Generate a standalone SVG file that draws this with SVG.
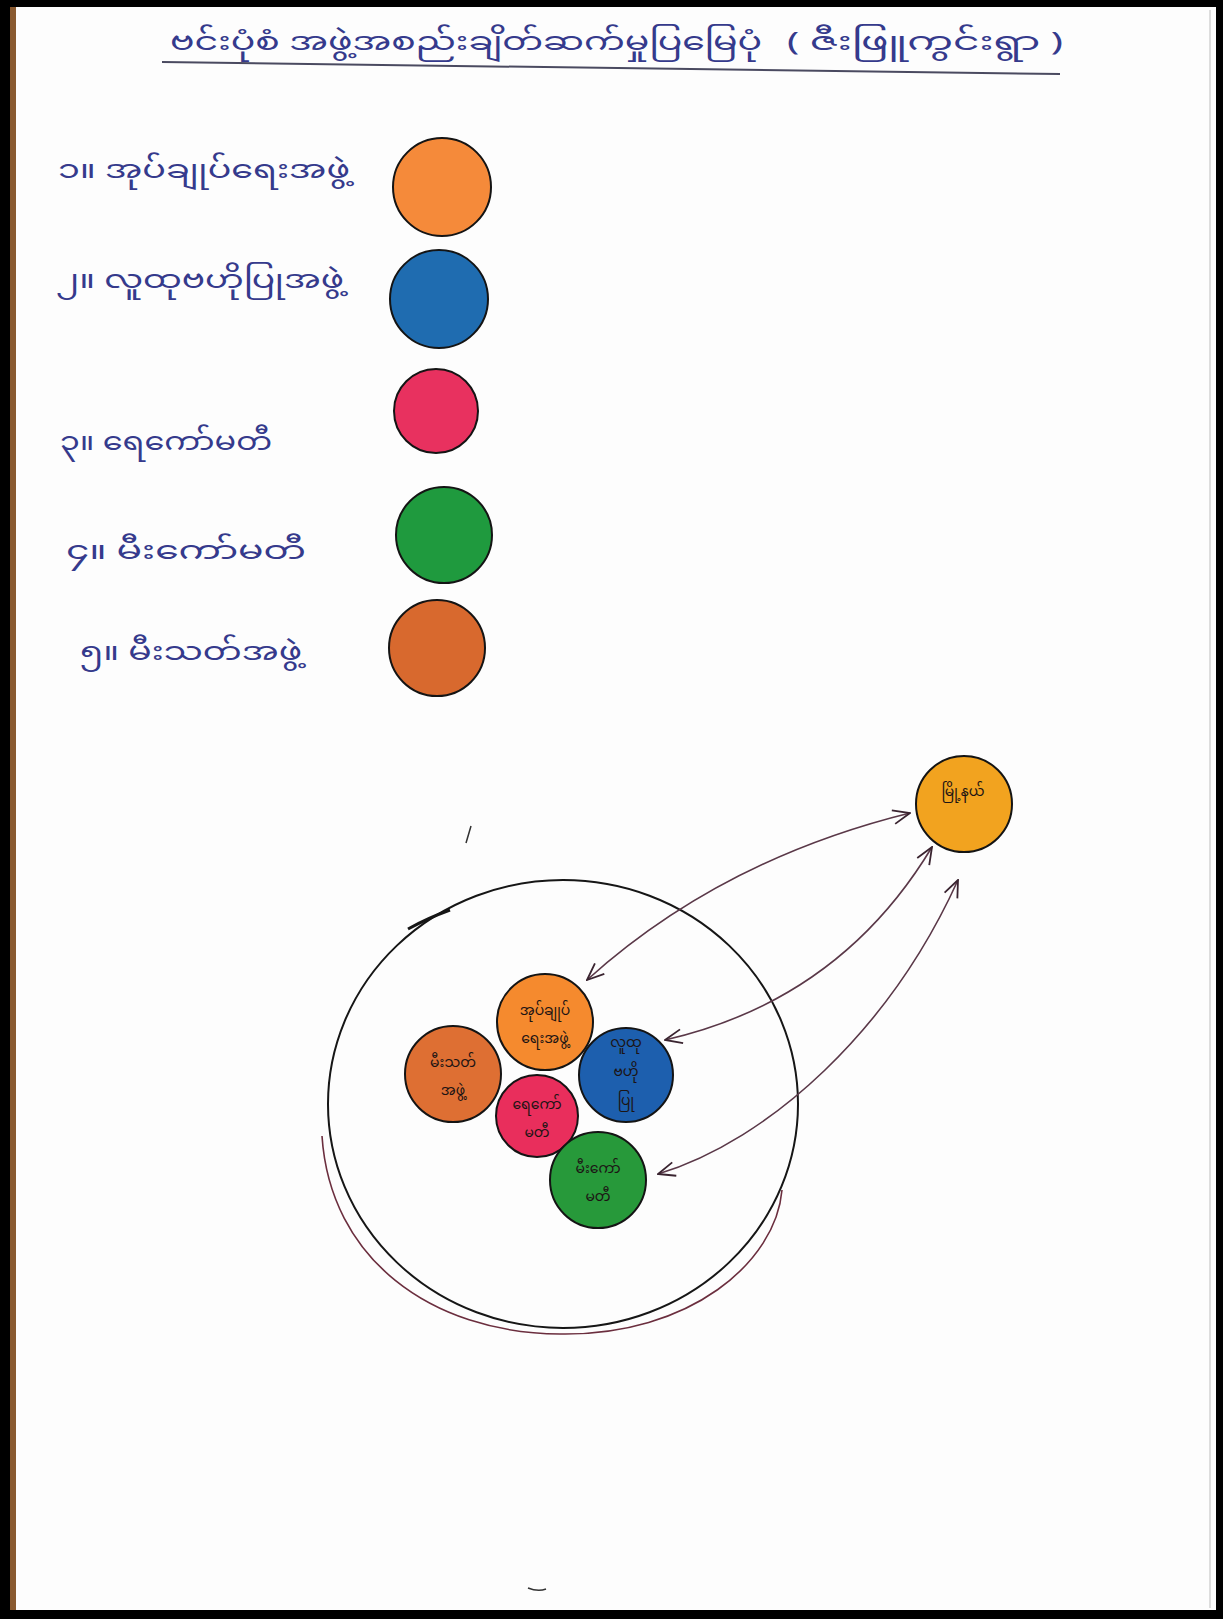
<svg xmlns="http://www.w3.org/2000/svg" width="1223" height="1619" viewBox="0 0 1223 1619">
<style>
.ink{font-family:"Noto Sans Myanmar","Padauk","Myanmar Text","Noto Sans","DejaVu Sans",sans-serif;fill:#353a8c}
.lbl{font-family:"Noto Sans Myanmar","Padauk","Myanmar Text","Noto Sans","DejaVu Sans",sans-serif;fill:#1c1414;font-size:14px;text-anchor:middle}
.dot{stroke:#141414;stroke-width:2}
.con{fill:none;stroke:#5a3848;stroke-width:1.6}
</style>
<defs>
<marker id="chev" viewBox="0 0 20 20" refX="19" refY="10" markerWidth="20" markerHeight="20" markerUnits="userSpaceOnUse" orient="auto-start-reverse">
<path d="M2,3 L19,10 L2,17" fill="none" stroke="#3a2430" stroke-width="1.8"/>
</marker>
</defs>
<rect x="0" y="0" width="1223" height="1619" fill="#000"/>
<rect x="10" y="7" width="1206" height="1603" fill="#fdfdfd"/>
<rect x="10" y="7" width="6" height="1603" fill="#8a5a30"/>
<line x1="1210" y1="10" x2="1210" y2="1608" stroke="#bdbdbd" stroke-width="1"/>

<g id="title">
<text class="ink" x="170" y="50" font-size="26" textLength="592" lengthAdjust="spacingAndGlyphs">ဗင်းပုံစံ အဖွဲ့အစည်းချိတ်ဆက်မှုပြမြေပုံ</text>
<text class="ink" x="787" y="50" font-size="26" textLength="276" lengthAdjust="spacingAndGlyphs">( ဇီးဖြူကွင်းရွာ )</text>
<path d="M162,62 Q650,68 1060,74" fill="none" stroke="#4a4a60" stroke-width="2"/>
</g>

<g id="legend-1">
<text class="ink" x="58" y="178" font-size="25" textLength="292" lengthAdjust="spacingAndGlyphs">၁။ အုပ်ချုပ်ရေးအဖွဲ့</text>
<circle class="dot" cx="442" cy="187" r="49" fill="#f58a3a"/>
</g>
<g id="legend-2">
<text class="ink" x="56" y="288" font-size="25" textLength="288" lengthAdjust="spacingAndGlyphs">၂။ လူထုဗဟိုပြုအဖွဲ့</text>
<circle class="dot" cx="439" cy="299" r="49" fill="#1f6cb0"/>
</g>
<g id="legend-3">
<text class="ink" x="60" y="450" font-size="25" textLength="212" lengthAdjust="spacingAndGlyphs">၃။ ရေကော်မတီ</text>
<circle class="dot" cx="436" cy="411" r="42" fill="#e8315f"/>
</g>
<g id="legend-4">
<text class="ink" x="66" y="559" font-size="25" textLength="240" lengthAdjust="spacingAndGlyphs">၄။ မီးကော်မတီ</text>
<circle class="dot" cx="444" cy="535" r="48" fill="#1f9a3e"/>
</g>
<g id="legend-5">
<text class="ink" x="80" y="660" font-size="25" textLength="222" lengthAdjust="spacingAndGlyphs">၅။ မီးသတ်အဖွဲ့</text>
<circle class="dot" cx="437" cy="648" r="48" fill="#d8692e"/>
</g>

<g id="village-boundary">
<ellipse cx="563" cy="1104" rx="235" ry="224" fill="none" stroke="#161616" stroke-width="2"/>
<path d="M322,1136 C330,1258 430,1333 560,1334 C690,1336 776,1262 782,1190" fill="none" stroke="#6b2e3e" stroke-width="1.6"/>
<path d="M408,929 Q428,918 450,910" fill="none" stroke="#161616" stroke-width="3"/>
</g>

<g id="node-admin">
<circle class="dot" cx="545" cy="1022" r="48" fill="#f58a2e"/>
<text class="lbl" x="545" y="1015">အုပ်ချုပ်</text>
<text class="lbl" x="545" y="1043">ရေးအဖွဲ့</text>
</g>
<g id="node-fire">
<circle class="dot" cx="453" cy="1074" r="48" fill="#de6f33"/>
<text class="lbl" x="453" y="1067">မီးသတ်</text>
<text class="lbl" x="453" y="1095">အဖွဲ့</text>
</g>
<g id="node-cbo">
<circle class="dot" cx="626" cy="1075" r="47" fill="#1d5fae"/>
<text class="lbl" x="626" y="1047" font-size="11" fill="#15163a">လူထု</text>
<text class="lbl" x="626" y="1076" font-size="11" fill="#15163a">ဗဟို</text>
<text class="lbl" x="626" y="1105" font-size="11" fill="#15163a">ပြု</text>
</g>
<g id="node-water">
<circle class="dot" cx="537" cy="1116" r="41" fill="#e92e5c"/>
<text class="lbl" x="537" y="1109">ရေကော်</text>
<text class="lbl" x="537" y="1137">မတီ</text>
</g>
<g id="node-power">
<circle class="dot" cx="598" cy="1180" r="48" fill="#27993a"/>
<text class="lbl" x="598" y="1173">မီးကော်</text>
<text class="lbl" x="598" y="1201">မတီ</text>
</g>
<g id="node-township">
<circle class="dot" cx="964" cy="804" r="48" fill="#f2a31f"/>
<text class="lbl" x="963" y="796" font-size="16">မြို့နယ်</text>
</g>

<g id="connectors">
<path class="con" d="M587,980 Q720,860 910,813" marker-start="url(#chev)" marker-end="url(#chev)"/>
<path class="con" d="M665,1040 Q840,1000 932,847" marker-start="url(#chev)" marker-end="url(#chev)"/>
<path class="con" d="M658,1174 C770,1140 890,1030 958,880" marker-start="url(#chev)" marker-end="url(#chev)"/>
</g>

<g id="marks">
<path d="M471,826 L466,843" stroke="#333" stroke-width="1.5" fill="none"/>
<path d="M528,1588 Q538,1592 546,1589" stroke="#333" stroke-width="1.5" fill="none"/>
</g>
</svg>
